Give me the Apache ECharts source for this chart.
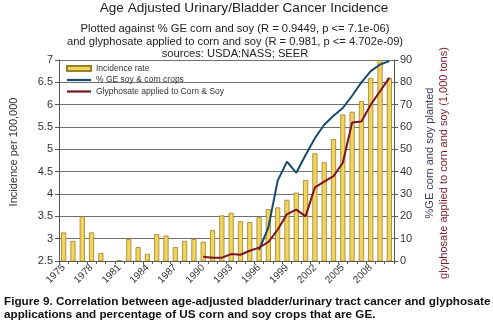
<!DOCTYPE html>
<html><head><meta charset="utf-8">
<script src="https://cdn.jsdelivr.net/npm/echarts@6/dist/echarts.min.js"></script>
<style>html,body{margin:0;padding:0;background:#fff}#c{width:493px;height:322px}</style>
</head><body><div id="c"></div>
<script>
const years = ['1975','1976','1977','1978','1979','1980','1981','1982','1983','1984','1985','1986','1987','1988','1989','1990','1991','1992','1993','1994','1995','1996','1997','1998','1999','2000','2001','2002','2003','2004','2005','2006','2007','2008','2009','2010'];
const incidence = [3.14,2.95,3.50,3.14,2.68,null,2.52,2.99,2.81,2.66,3.10,3.07,2.81,2.95,2.99,2.93,3.19,3.52,3.58,3.39,3.37,3.48,3.66,3.70,3.87,4.03,4.31,4.91,4.71,5.23,5.78,5.84,6.08,6.60,7.00,6.60];
const geShare = [null,null,null,null,null,null,null,null,null,null,null,null,null,null,null,null,null,null,null,null,null,5,15,36,44.5,39.5,47.5,55,61,65,68.5,74,80,85,88,89.5];
const glyphosate = [null,null,null,null,null,null,null,null,null,null,null,null,null,null,null,1.9,1.5,1.5,3.1,2.8,4.6,6,8.5,14,21,23,20,33,35.5,38,44,62,62.5,70,76,82];
const leftTicks = {min:2.5, max:7, interval:0.5};
const rightTicks = {min:0, max:90, interval:10};
const titleText = 'Age Adjusted Urinary/Bladder Cancer Incidence';
const subText = 'Plotted against % GE corn and soy (R = 0.9449, p <= 7.1e-06)\nand glyphosate applied to corn and soy (R = 0.981, p <= 4.702e-09)\nsources: USDA:NASS; SEER';
const caption = 'Figure 9. Correlation between age-adjusted bladder/urinary tract cancer and glyphosate\napplications and percentage of US corn and soy crops that are GE.';

const F = 'Liberation Sans, Arial, sans-serif';
const lineIcon = 'path://M0,0L24,0L24,2.2L0,2.2Z';
const chart = echarts.init(document.getElementById('c'), null, {renderer:'canvas'});
chart.setOption({
  animation:false,
  textStyle:{fontFamily:F},
  title:[
    {text:titleText, left:239, textAlign:'center', top:-4, textStyle:{fontSize:13.6, fontWeight:'normal', color:'#222', fontFamily:F}},
    {text:subText, left:230, textAlign:'center', top:18, textStyle:{fontSize:11.2, fontWeight:'normal', color:'#222', lineHeight:12.5, fontFamily:F}}
  ],
  grid:{left:59, right:99, top:60, bottom:61},
  legend:{
    orient:'vertical', left:61, top:59, itemWidth:24, itemHeight:5, itemGap:2.5,
    textStyle:{fontSize:8.5, color:'#333', fontFamily:F},
    data:[
      {name:'Incidence rate', icon:'rect'},
      {name:'% GE soy & corn crops', icon:lineIcon},
      {name:'Glyphosate applied to Corn & Soy', icon:lineIcon}
    ]
  },
  xAxis:{
    type:'category', data:years, boundaryGap:true,
    axisLine:{lineStyle:{color:'#555'}},
    axisTick:{show:true, interval:0, length:3, lineStyle:{color:'#555'}},
    axisLabel:{interval:2, rotate:45, fontSize:10, color:'#333', margin:5, fontFamily:F}
  },
  yAxis:[
    {type:'value', min:leftTicks.min, max:leftTicks.max, interval:leftTicks.interval,
     axisLine:{show:true, lineStyle:{color:'#555'}},
     axisTick:{show:true, length:4, lineStyle:{color:'#555'}},
     axisLabel:{fontSize:11, color:'#333', margin:6, fontFamily:F},
     splitLine:{show:true, lineStyle:{color:'#707070', width:1}}},
    {type:'value', min:rightTicks.min, max:rightTicks.max, interval:rightTicks.interval, position:'right',
     axisLine:{show:true, lineStyle:{color:'#555'}},
     axisTick:{show:true, length:4, lineStyle:{color:'#555'}},
     axisLabel:{fontSize:11, color:'#333', margin:6, fontFamily:F},
     splitLine:{show:false}}
  ],
  series:[
    {name:'Incidence rate', type:'bar', yAxisIndex:0, data:incidence, barWidth:'55%', clip:true,
     itemStyle:{color:'#f3d45c', borderColor:'#9c8028', borderWidth:0.8}},
    {name:'% GE soy & corn crops', type:'line', yAxisIndex:1, data:geShare, symbol:'none',
     lineStyle:{color:'#1b4a6e', width:2}, itemStyle:{color:'#1b4a6e'}},
    {name:'Glyphosate applied to Corn & Soy', type:'line', yAxisIndex:1, data:glyphosate, symbol:'none',
     lineStyle:{color:'#7a1420', width:2}, itemStyle:{color:'#7a1420'}}
  ],
  graphic:[
    {type:'text', x:14, y:152, rotation:Math.PI/2, style:{text:'Incidence per 100,000', fontSize:11, fill:'#333', align:'center', verticalAlign:'middle', fontFamily:F}},
    {type:'text', x:430, y:153, rotation:Math.PI/2, style:{text:'%GE corn and soy planted', fontSize:11, fill:'#3a3a5c', align:'center', verticalAlign:'middle', fontFamily:F}},
    {type:'text', x:444, y:163, rotation:Math.PI/2, style:{text:'glyphosate applied to corn and soy (1,000 tons)', fontSize:11, fill:'#7a1a2a', align:'center', verticalAlign:'middle', fontFamily:F}},
    {type:'text', x:4, y:295, style:{text:caption, fontSize:11.7, fontWeight:'bold', fill:'#111', lineHeight:13, fontFamily:F}}
  ]
});
</script></body></html>
